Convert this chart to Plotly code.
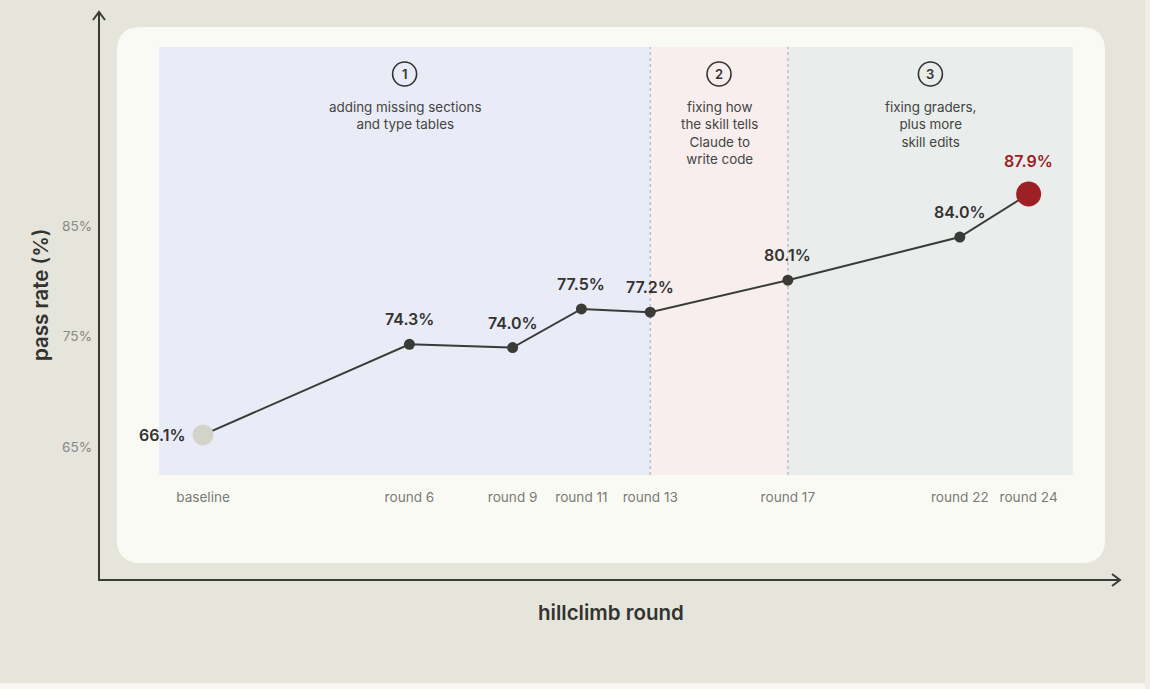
import plotly.graph_objects as go

# ---------------- data ----------------
rounds = [0, 6, 9, 11, 13, 17, 22, 24]
round_labels = ["baseline", "round 6", "round 9", "round 11", "round 13",
                "round 17", "round 22", "round 24"]
pass_rate = [66.1, 74.3, 74.0, 77.5, 77.2, 80.1, 84.0, 87.9]
value_labels = ["66.1%", "74.3%", "74.0%", "77.5%", "77.2%", "80.1%", "84.0%", "87.9%"]
y_ticks = [65, 75, 85]
y_tick_labels = ["65%", "75%", "85%"]
phase_numbers = ["1", "2", "3"]
phase_texts = ["adding missing sections<br>and type tables",
               "fixing how<br>the skill tells<br>Claude to<br>write code",
               "fixing graders,<br>plus more<br>skill edits"]
phase_bounds = [13, 17]

# ---------------- layout geometry ----------------
W, H = 1150, 689
L, R, T, B = 159, 1073, 47, 475   # plot area in pixels
X_RANGE = [-1.28, 25.29]
Y_RANGE = [62.47, 101.2]

def px(p):
    return (p - L) / (R - L)

def py(p):
    return (B - p) / (B - T)

FONT = "Inter, Lato, sans-serif"
BG = "#e6e5dc"
CARD = "#fafaf5"
DARK = "#3a3a36"
RED = "#9c2024"

fig = go.Figure()

# line + markers
marker_colors = [DARK] * len(rounds)
marker_sizes = [11] * len(rounds)
marker_colors[0] = "#d4d3ca"
marker_sizes[0] = 21
marker_colors[-1] = RED
marker_sizes[-1] = 25
fig.add_trace(go.Scatter(
    x=rounds, y=pass_rate, mode="lines+markers",
    line=dict(color=DARK, width=2),
    marker=dict(color=marker_colors, size=marker_sizes, opacity=1, line=dict(width=0)),
    hoverinfo="skip", showlegend=False,
))

shapes = []
# card (rounded rectangle) behind plot
cx0, cx1, cy0, cy1, r = 117, 1105, 27, 563, 24
rx, ry = r / (R - L), r / (B - T)
X0, X1, Y0, Y1 = px(cx0), px(cx1), py(cy1), py(cy0)
path = (f"M {X0+rx},{Y0} L {X1-rx},{Y0} Q {X1},{Y0} {X1},{Y0+ry} "
        f"L {X1},{Y1-ry} Q {X1},{Y1} {X1-rx},{Y1} "
        f"L {X0+rx},{Y1} Q {X0},{Y1} {X0},{Y1-ry} "
        f"L {X0},{Y0+ry} Q {X0},{Y0} {X0+rx},{Y0} Z")
shapes.append(dict(type="path", xref="paper", yref="paper", path=path,
                   fillcolor=CARD, line=dict(width=0), layer="below"))
# bottom / right lighter strips
shapes.append(dict(type="rect", xref="paper", yref="paper",
                   x0=px(0), x1=px(W), y0=py(H), y1=py(683),
                   fillcolor="#f7f6f0", line=dict(width=0), layer="below"))
shapes.append(dict(type="rect", xref="paper", yref="paper",
                   x0=px(1145), x1=px(W), y0=py(H), y1=py(0),
                   fillcolor="#eeede6", line=dict(width=0), layer="below"))

# phase backgrounds
phase_edges = [X_RANGE[0]] + phase_bounds + [X_RANGE[1]]
phase_colors = ["#e9ecf7", "#f8eeee", "#e9eeec"]
for i in range(3):
    shapes.append(dict(type="rect", xref="x", yref="paper",
                       x0=phase_edges[i], x1=phase_edges[i + 1], y0=0, y1=1,
                       fillcolor=phase_colors[i], line=dict(width=0), layer="below"))
for b in phase_bounds:
    shapes.append(dict(type="line", xref="x", yref="paper", x0=b, x1=b, y0=0, y1=1,
                       line=dict(color="#b5b5b0", width=1.2, dash="3px,3px"), layer="below"))

annotations = []
# phase circles and texts
for i in range(3):
    xc = (phase_edges[i] + phase_edges[i + 1]) / 2
    shapes.append(dict(type="circle", xref="x", yref="paper",
                       xsizemode="pixel", ysizemode="pixel",
                       xanchor=xc, yanchor=py(74),
                       x0=-12, x1=12, y0=-12, y1=12,
                       line=dict(color="#333330", width=1.6), fillcolor="rgba(0,0,0,0)",
                       layer="above"))
    annotations.append(dict(x=xc, y=py(74), xref="x", yref="paper",
                            text=phase_numbers[i], showarrow=False,
                            font=dict(family=FONT, size=13, color="#333330", weight=600),
                            xanchor="center", yanchor="middle"))
    annotations.append(dict(x=xc, y=py(97), xref="x", yref="paper",
                            text=phase_texts[i], showarrow=False,
                            font=dict(family=FONT, size=13.4, color="#444442"),
                            xanchor="center", yanchor="top", align="center"))

# value labels
for i, (xv, yv, t) in enumerate(zip(rounds, pass_rate, value_labels)):
    if i == 0:
        annotations.append(dict(x=xv, y=yv, xref="x", yref="y", text=t, showarrow=False,
                                xanchor="right", yanchor="middle", xshift=-16,
                                font=dict(family=FONT, size=16, color="#333330", weight=600)))
    elif i == len(rounds) - 1:
        annotations.append(dict(x=xv, y=yv, xref="x", yref="y", text=t, showarrow=False,
                                xanchor="center", yanchor="middle", yshift=33,
                                font=dict(family=FONT, size=16, color=RED, weight=600)))
    else:
        annotations.append(dict(x=xv, y=yv, xref="x", yref="y", text=t, showarrow=False,
                                xanchor="center", yanchor="middle", yshift=25,
                                font=dict(family=FONT, size=16, color="#333330", weight=600)))

# axis arrows
ax_x, ax_y = 99, 580
shapes.append(dict(type="line", xref="paper", yref="paper",
                   x0=px(ax_x), x1=px(ax_x), y0=py(ax_y + 1), y1=py(12),
                   line=dict(color=DARK, width=2)))
shapes.append(dict(type="path", xref="paper", yref="paper",
                   path=f"M {px(ax_x-6)},{py(20)} L {px(ax_x)},{py(12)} L {px(ax_x+6)},{py(20)}",
                   line=dict(color=DARK, width=2)))
shapes.append(dict(type="line", xref="paper", yref="paper",
                   x0=px(ax_x - 1), x1=px(1120), y0=py(ax_y), y1=py(ax_y),
                   line=dict(color=DARK, width=2)))
shapes.append(dict(type="path", xref="paper", yref="paper",
                   path=f"M {px(1112)},{py(ax_y-6)} L {px(1120)},{py(ax_y)} L {px(1112)},{py(ax_y+6)}",
                   line=dict(color=DARK, width=2)))

# axis titles
annotations.append(dict(x=px(40), y=py(295), xref="paper", yref="paper",
                        text="pass rate (%)", showarrow=False, textangle=-90,
                        xanchor="center", yanchor="middle",
                        font=dict(family=FONT, size=20.5, color="#333330", weight=600)))
annotations.append(dict(x=px(611), y=py(612), xref="paper", yref="paper",
                        text="hillclimb round", showarrow=False,
                        xanchor="center", yanchor="middle",
                        font=dict(family=FONT, size=20.5, color="#333330", weight=600)))

fig.update_layout(
    width=W, height=H,
    margin=dict(l=L, r=W - R, t=T, b=H - B, autoexpand=False),
    paper_bgcolor=BG, plot_bgcolor="rgba(0,0,0,0)",
    shapes=shapes, annotations=annotations,
    font=dict(family=FONT),
    xaxis=dict(range=X_RANGE, tickvals=rounds, ticktext=round_labels,
               showgrid=False, zeroline=False, showline=False, ticks="",
               ticklabelstandoff=12,
               tickfont=dict(family=FONT, size=13.6, color="#7a7a76")),
    yaxis=dict(range=Y_RANGE, tickvals=y_ticks, ticktext=y_tick_labels,
               showgrid=False, zeroline=False, showline=False, ticks="",
               ticklabelstandoff=66,
               tickfont=dict(family=FONT, size=13.6, color="#8a8a86")),
)

fig.write_html("out.html", config={"displayModeBar": False},
               post_script="document.body.style.margin='0px';")
